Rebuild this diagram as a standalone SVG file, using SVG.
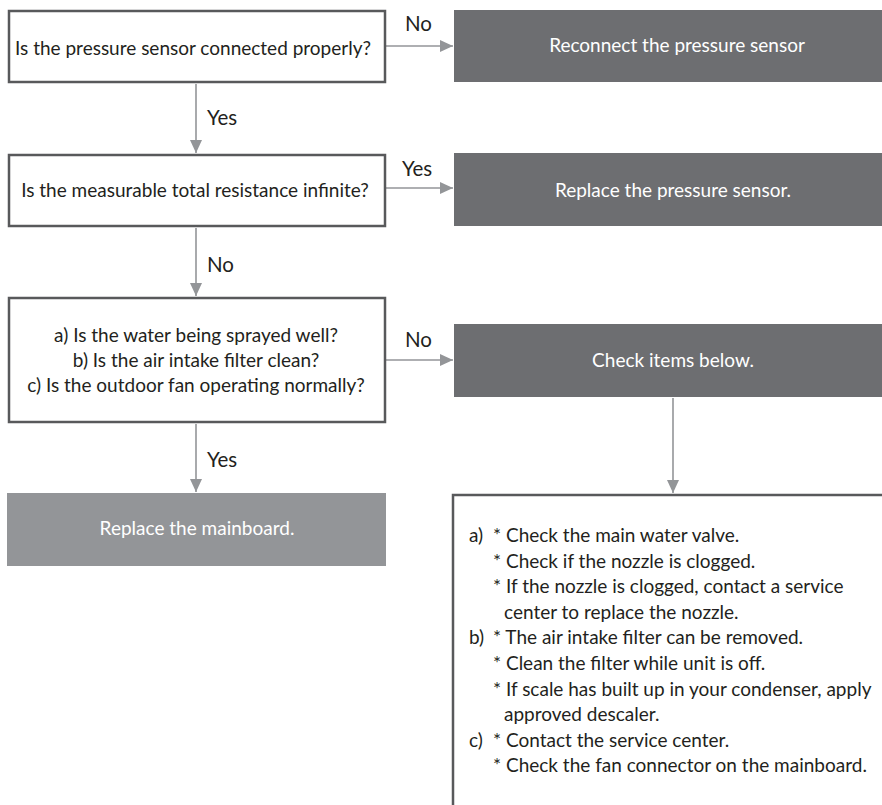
<svg xmlns="http://www.w3.org/2000/svg" width="882" height="805" viewBox="0 0 882 805">
<defs>
<marker id="ah" markerUnits="userSpaceOnUse" markerWidth="14" markerHeight="12" refX="13" refY="6" orient="auto">
<path d="M0,0 L13,6 L0,12 Z" fill="#939598"/>
</marker>
<style>
text{font-family:Lato,"Open Sans","Liberation Sans",sans-serif;font-size:19px;fill:#231f20}
.lbl{font-size:20.5px}
.q{fill:#fff;stroke:#58595b;stroke-width:2.5}
.dark{fill:#6d6e71}
.light{fill:#939598}
.w{fill:#fff}
.c{text-anchor:middle}
.con{stroke:#939598;stroke-width:1.6;fill:none;marker-end:url(#ah)}
</style>
</defs>
<rect width="882" height="805" fill="#fff"/>
<g id="connectors">
<path class="con" d="M386,46 H453"/>
<path class="con" d="M196,84 V153"/>
<path class="con" d="M386,188 H453"/>
<path class="con" d="M196,228 V296"/>
<path class="con" d="M386,360 H453"/>
<path class="con" d="M196,424 V492"/>
<path class="con" d="M673,398 V493"/>
<text class="lbl" x="405" y="31">No</text>
<text class="lbl" x="207" y="125">Yes</text>
<text class="lbl" x="402" y="176">Yes</text>
<text class="lbl" x="207" y="272">No</text>
<text class="lbl" x="405" y="347">No</text>
<text class="lbl" x="207" y="467">Yes</text>
</g>
<g id="q1">
<rect class="q" x="9" y="11" width="376" height="71"/>
<text class="c" x="193" y="55">Is the pressure sensor connected properly?</text>
</g>
<g id="q2">
<rect class="q" x="9" y="155" width="376" height="71"/>
<text class="c" x="195" y="197">Is the measurable total resistance infinite?</text>
</g>
<g id="q3">
<rect class="q" x="9" y="298" width="376" height="124"/>
<text class="c" x="196" y="342">a) Is the water being sprayed well?</text>
<text class="c" x="196" y="367">b) Is the air intake filter clean?</text>
<text class="c" x="196" y="392">c) Is the outdoor fan operating normally?</text>
</g>
<g id="a1">
<rect class="dark" x="454" y="10" width="428" height="72"/>
<text class="c w" x="677" y="52">Reconnect the pressure sensor</text>
</g>
<g id="a2">
<rect class="dark" x="454" y="153" width="428" height="73"/>
<text class="c w" x="673" y="197">Replace the pressure sensor.</text>
</g>
<g id="a3">
<rect class="dark" x="454" y="324" width="428" height="73"/>
<text class="c w" x="673" y="367">Check items below.</text>
</g>
<g id="a4">
<rect class="light" x="7" y="493" width="379" height="73"/>
<text class="c w" x="197" y="535">Replace the mainboard.</text>
</g>
<g id="items">
<path d="M453,805 V495 H882" fill="none" stroke="#58595b" stroke-width="2.5"/>
<text x="469" y="542">a)</text>
<text x="493" y="542">* Check the main water valve.</text>
<text x="493" y="568">* Check if the nozzle is clogged.</text>
<text x="493" y="593">* If the nozzle is clogged, contact a service</text>
<text x="504" y="619">center to replace the nozzle.</text>
<text x="469" y="644">b)</text>
<text x="493" y="644">* The air intake filter can be removed.</text>
<text x="493" y="670">* Clean the filter while unit is off.</text>
<text x="493" y="696">* If scale has built up in your condenser, apply</text>
<text x="504" y="721">approved descaler.</text>
<text x="469" y="747">c)</text>
<text x="493" y="747">* Contact the service center.</text>
<text x="493" y="772">* Check the fan connector on the mainboard.</text>
</g>
</svg>
